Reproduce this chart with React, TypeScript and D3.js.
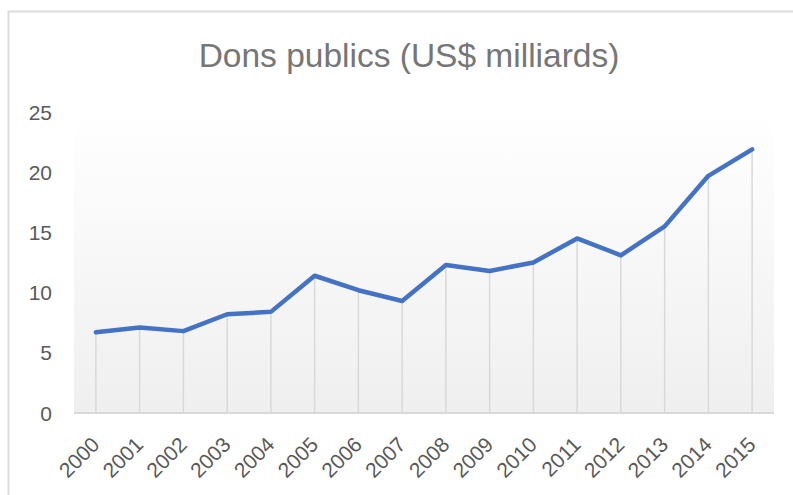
import React from "react";
import * as d3 from "d3";

const years: string[] = ["2000","2001","2002","2003","2004","2005","2006","2007","2008","2009","2010","2011","2012","2013","2014","2015"];
const values: number[] = [6.7, 7.1, 6.8, 8.2, 8.4, 11.4, 10.2, 9.3, 12.3, 11.8, 12.5, 14.5, 13.1, 15.5, 19.7, 21.9];
const yTicks: number[] = [0, 5, 10, 15, 20, 25];
const title = "Dons publics (US$ milliards)";

export default function App() {
  const W = 793, H = 495;
  const left = 74, right = 774, top = 112, bottom = 413;
  const x = d3.scalePoint<string>().domain(years).range([left, right]).padding(0.5);
  const y = d3.scaleLinear().domain([0, 25]).range([bottom, top]);
  const line = d3.line<number>().x((_, i) => x(years[i]) as number).y((d) => y(d));
  const font = "'Liberation Sans', Arial, sans-serif";
  return (
    <svg width={W} height={H} style={{ position: "absolute", left: 0, top: 0, background: "#fff" }}>
      <defs>
        <linearGradient id="pa" x1="0" y1="0" x2="0" y2="1">
          <stop offset="0" stopColor="#ffffff" />
          <stop offset="1" stopColor="#efefef" />
        </linearGradient>
      </defs>
      <rect x={8.5} y={11.5} width={W + 20} height={H + 20} fill="#fff" stroke="#dcdcdc" strokeWidth={2} />
      <text x={409} y={67} textAnchor="middle" fontFamily={font} fontSize={33.5} fill="#767676">{title}</text>
      <rect x={left} y={y(25)} width={right - left} height={bottom - y(25)} fill="url(#pa)" />
      {yTicks.map((t) => (
        <text key={t} x={52} y={y(t)} dy="0.36em" textAnchor="end" fontFamily={font} fontSize={21} fill="#595959">{t}</text>
      ))}
      {values.map((v, i) => (
        <line key={i} x1={x(years[i])} x2={x(years[i])} y1={y(v)} y2={bottom} stroke="#d9d9d9" strokeWidth={1.5} />
      ))}
      <line x1={left} x2={right} y1={bottom} y2={bottom} stroke="#d9d9d9" strokeWidth={2} />
      <path d={line(values) || ""} fill="none" stroke="#4472C4" strokeWidth={4.5} strokeLinejoin="round" strokeLinecap="round" />
      {years.map((yr) => {
        const cx = (x(yr) as number) + 5;
        const cy = 446;
        return (
          <text key={yr} x={cx} y={cy} transform={`rotate(-45 ${cx} ${cy})`} textAnchor="end" fontFamily={font} fontSize={21} fill="#595959">{yr}</text>
        );
      })}
    </svg>
  );
}
